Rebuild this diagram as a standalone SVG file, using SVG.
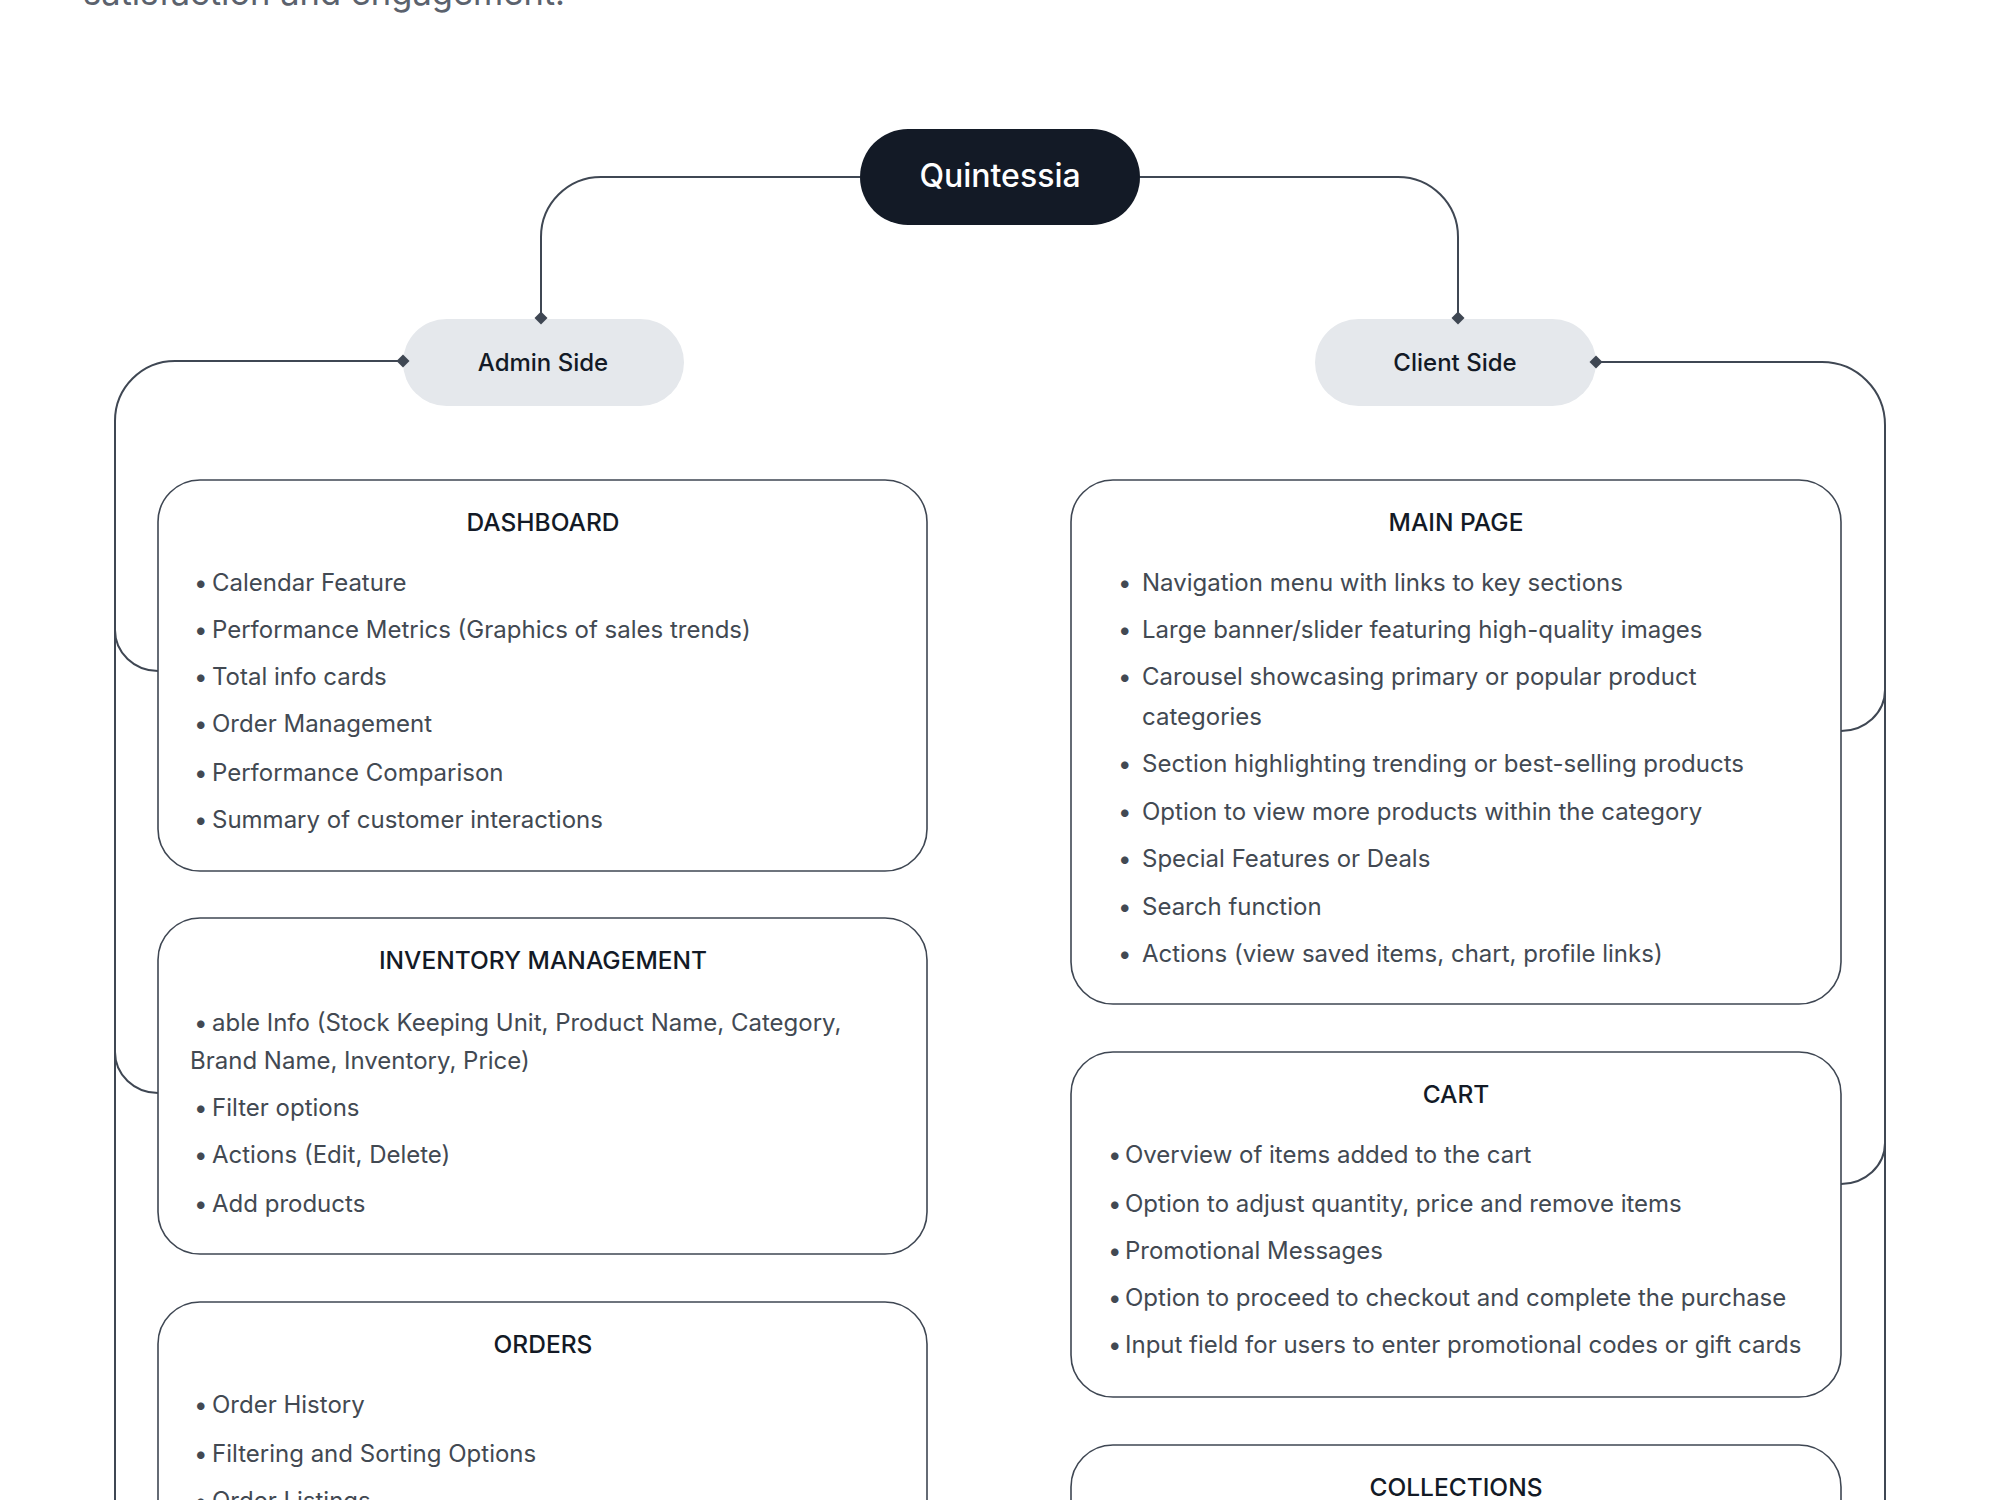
<svg xmlns="http://www.w3.org/2000/svg" width="2000" height="1500" viewBox="0 0 2000 1500">
  <defs>
    <marker id="dia" viewBox="-7 -7 14 14" markerWidth="14" markerHeight="14" markerUnits="userSpaceOnUse" refX="0" refY="0" orient="auto">
      <path d="M0,-6.5 L6.5,0 L0,6.5 L-6.5,0 Z" fill="#3f4753"/>
    </marker>
    <style>
      .conn { fill: none; stroke: #3f4753; stroke-width: 2; }
      .box { fill: #ffffff; stroke: #3f4753; stroke-width: 1.6; }
      .pill { fill: #e5e8ec; }
      .root { fill: #131a26; }
      .rootlabel { font-family: Inter, "Liberation Sans", sans-serif; font-size: 32px; font-weight: 500; fill: #ffffff; text-anchor: middle; }
      .sidelabel { font-family: Inter, "Liberation Sans", sans-serif; font-size: 24px; font-weight: 500; fill: #131a26; text-anchor: middle; }
      .head { font-family: Inter, "Liberation Sans", sans-serif; font-size: 24.5px; font-weight: 500; fill: #131a26; text-anchor: middle; }
      .item { font-family: Inter, "Liberation Sans", sans-serif; font-size: 24px; font-weight: 400; fill: #424952; }
      .top { font-family: Inter, "Liberation Sans", sans-serif; font-size: 34.5px; font-weight: 400; fill: #5b626d; }
    </style>
  </defs>
  <rect width="2000" height="1500" fill="#ffffff"/>

  <text class="top" x="83" y="5">satisfaction and engagement.</text>

  <g id="quintessia">
    <rect class="root" x="860" y="129" width="280" height="96" rx="48"/>
    <text class="rootlabel" x="1000" y="187">Quintessia</text>
  </g>

  <g id="admin-side">
    <rect class="pill" x="403" y="319" width="281" height="87" rx="43.5"/>
    <text class="sidelabel" x="543" y="371">Admin Side</text>
  </g>

  <g id="client-side">
    <rect class="pill" x="1315" y="319" width="281" height="87" rx="43.5"/>
    <text class="sidelabel" x="1455" y="371">Client Side</text>
  </g>

  <g id="dashboard">
    <rect class="box" x="158" y="480" width="769" height="391" rx="42"/>
    <text class="head" x="543" y="531">DASHBOARD</text>
    <text class="item" y="591"><tspan x="194">•</tspan><tspan x="212">Calendar Feature</tspan></text>
    <text class="item" y="638"><tspan x="194">•</tspan><tspan x="212">Performance Metrics (Graphics of sales trends)</tspan></text>
    <text class="item" y="685"><tspan x="194">•</tspan><tspan x="212">Total info cards</tspan></text>
    <text class="item" y="732"><tspan x="194">•</tspan><tspan x="212">Order Management</tspan></text>
    <text class="item" y="781"><tspan x="194">•</tspan><tspan x="212">Performance Comparison</tspan></text>
    <text class="item" y="828"><tspan x="194">•</tspan><tspan x="212">Summary of customer interactions</tspan></text>
  </g>

  <g id="inventory-management">
    <rect class="box" x="158" y="918" width="769" height="336" rx="42"/>
    <text class="head" x="543" y="969">INVENTORY MANAGEMENT</text>
    <text class="item" y="1031"><tspan x="194">•</tspan><tspan x="212">able Info (Stock Keeping Unit, Product Name, Category,</tspan></text>
    <text class="item" x="190" y="1069">Brand Name, Inventory, Price)</text>
    <text class="item" y="1116"><tspan x="194">•</tspan><tspan x="212">Filter options</tspan></text>
    <text class="item" y="1163"><tspan x="194">•</tspan><tspan x="212">Actions (Edit, Delete)</tspan></text>
    <text class="item" y="1212"><tspan x="194">•</tspan><tspan x="212">Add products</tspan></text>
  </g>

  <g id="orders">
    <rect class="box" x="158" y="1302" width="769" height="300" rx="42"/>
    <text class="head" x="543" y="1353">ORDERS</text>
    <text class="item" y="1413"><tspan x="194">•</tspan><tspan x="212">Order History</tspan></text>
    <text class="item" y="1462"><tspan x="194">•</tspan><tspan x="212">Filtering and Sorting Options</tspan></text>
    <text class="item" y="1509"><tspan x="194">•</tspan><tspan x="212">Order Listings</tspan></text>
  </g>

  <g id="main-page">
    <rect class="box" x="1071" y="480" width="770" height="524" rx="42"/>
    <text class="head" x="1456" y="531">MAIN PAGE</text>
    <text class="item" y="591"><tspan x="1118">•</tspan><tspan x="1142">Navigation menu with links to key sections</tspan></text>
    <text class="item" y="638"><tspan x="1118">•</tspan><tspan x="1142">Large banner/slider featuring high-quality images</tspan></text>
    <text class="item" y="685"><tspan x="1118">•</tspan><tspan x="1142">Carousel showcasing primary or popular product</tspan></text>
    <text class="item" x="1142" y="725">categories</text>
    <text class="item" y="772"><tspan x="1118">•</tspan><tspan x="1142">Section highlighting trending or best-selling products</tspan></text>
    <text class="item" y="820"><tspan x="1118">•</tspan><tspan x="1142">Option to view more products within the category</tspan></text>
    <text class="item" y="867"><tspan x="1118">•</tspan><tspan x="1142">Special Features or Deals</tspan></text>
    <text class="item" y="915"><tspan x="1118">•</tspan><tspan x="1142">Search function</tspan></text>
    <text class="item" y="962"><tspan x="1118">•</tspan><tspan x="1142">Actions (view saved items, chart, profile links)</tspan></text>
  </g>

  <g id="cart">
    <rect class="box" x="1071" y="1052" width="770" height="345" rx="42"/>
    <text class="head" x="1456" y="1103">CART</text>
    <text class="item" y="1163"><tspan x="1108">•</tspan><tspan x="1125">Overview of items added to the cart</tspan></text>
    <text class="item" y="1212"><tspan x="1108">•</tspan><tspan x="1125">Option to adjust quantity, price and remove items</tspan></text>
    <text class="item" y="1259"><tspan x="1108">•</tspan><tspan x="1125">Promotional Messages</tspan></text>
    <text class="item" y="1306"><tspan x="1108">•</tspan><tspan x="1125">Option to proceed to checkout and complete the purchase</tspan></text>
    <text class="item" y="1353"><tspan x="1108">•</tspan><tspan x="1125">Input field for users to enter promotional codes or gift cards</tspan></text>
  </g>

  <g id="collections">
    <rect class="box" x="1071" y="1445" width="770" height="200" rx="42"/>
    <text class="head" x="1456" y="1496">COLLECTIONS</text>
  </g>

  <g id="connectors">
    <path class="conn" d="M860,177 H601 A60,60 0 0 0 541,237 V318" marker-end="url(#dia)"/>
    <path class="conn" d="M1140,177 H1398 A60,60 0 0 1 1458,237 V318" marker-end="url(#dia)"/>
    <path class="conn" d="M403,361 H175 A60,60 0 0 0 115,421 V1500" marker-start="url(#dia)"/>
    <path class="conn" d="M115,630 A43,41 0 0 0 158,671"/>
    <path class="conn" d="M115,1052 A43,41 0 0 0 158,1093"/>
    <path class="conn" d="M1596,362 H1822 A63,63 0 0 1 1885,425 V1500" marker-start="url(#dia)"/>
    <path class="conn" d="M1885,690 A44,41 0 0 1 1841,731"/>
    <path class="conn" d="M1885,1143 A44,41 0 0 1 1841,1184"/>
  </g>
</svg>
